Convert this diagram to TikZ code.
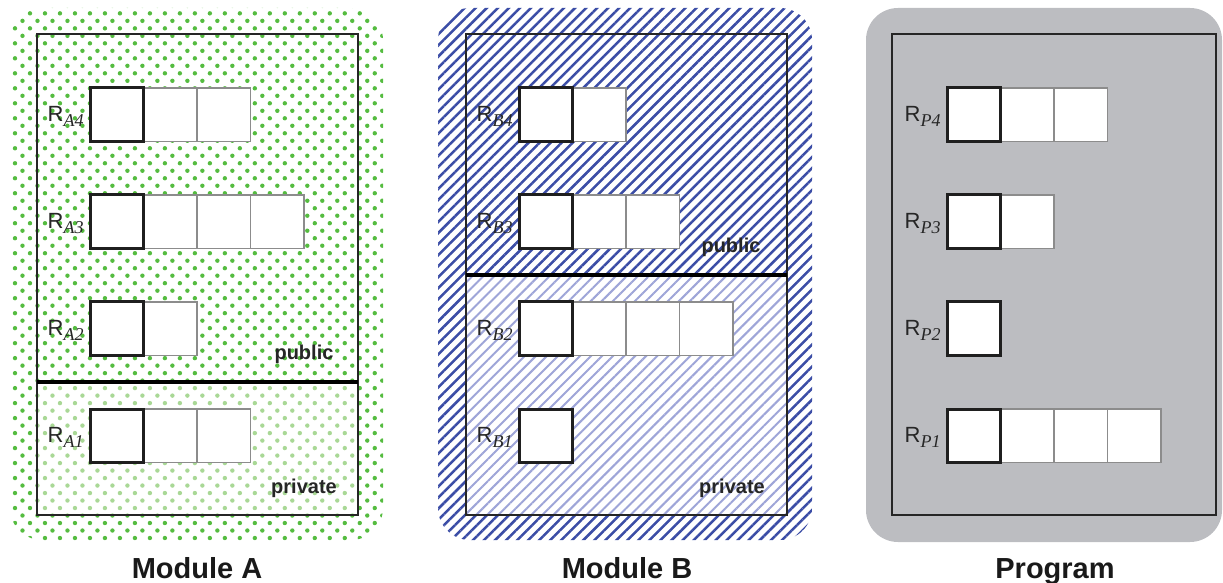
\documentclass[tikz,border=0pt]{standalone}
\usepackage{fontspec}
\setmainfont{Liberation Serif}
\setsansfont{Liberation Sans}
\usetikzlibrary{patterns.meta}
\definecolor{gdot}{HTML}{55BC40}
\definecolor{gdotl}{HTML}{A9D896}
\definecolor{bhat}{HTML}{3B4DA6}
\definecolor{bhatl}{HTML}{9EA5D8}
\definecolor{pgray}{HTML}{BCBDC1}
\definecolor{thincol}{HTML}{8C8C8C}
\newcommand\regrow[6]{%
  \ifnum#4>1
    \foreach \k in {2,...,#4}{\node[cellthin] (#1c\k) at ({#2+(\k-1)*53.5+26.75},{#3+26.75}) {};}
  \fi
  \node[cellbold] (#1c1) at ({#2+26.75},{#3+26.75}) {};
  \node[reglabel] (#1lab) at ([xshift=-3pt,yshift=-3.5pt]#1c1.west) {R\raisebox{-2.2pt}{\fontsize{9}{9}\selectfont\rmfamily\itshape #5#6}};
}
\begin{document}
\begin{tikzpicture}[x=0.5pt,y=-0.5pt,
  cellthin/.style={draw=thincol, line width=0.6pt, fill=white, minimum width=26.75pt, minimum height=26.75pt, inner sep=0pt, outer sep=0pt},
  cellbold/.style={draw=black!88, line width=1.5pt, minimum width=26.75pt, minimum height=26.75pt, inner sep=0pt, outer sep=0pt, fill=white},
  reglabel/.style={font=\fontsize{11}{13}\selectfont\sffamily, inner sep=0pt, anchor=base east, text=black!85},
  tag/.style={font=\fontsize{10}{12}\selectfont\sffamily\bfseries, text=black!85, inner sep=0pt, anchor=base},
  title/.style={font=\fontsize{14.5}{17}\selectfont\sffamily\bfseries, text=black!90, inner sep=0pt, anchor=base},
  frame/.style={draw=black!85, line width=0.65pt},
  sepline/.style={draw=black, line width=2.2pt},
  darkdots/.style={pattern={Dots[distance=5.3pt,angle=45,radius=1.1pt]}, pattern color=gdot},
  lightdots/.style={pattern={Dots[distance=5.3pt,angle=45,radius=1.1pt]}, pattern color=gdotl},
  darkhatch/.style={pattern={Lines[angle=45,distance=3.9pt,line width=1.25pt]}, pattern color=bhat},
  lighthatch/.style={pattern={Lines[angle=45,distance=3.9pt,line width=1.0pt]}, pattern color=bhatl}
]
\useasboundingbox (0,0) rectangle (1223,583);

% ---------- Module A ----------
\fill[white, rounded corners=16pt] (10,8) rectangle (383,540);
\fill[darkdots, rounded corners=16pt] (10,8) rectangle (383,540);
\fill[white] (37,382) rectangle (358,515);
\fill[lightdots] (37,382) rectangle (358,515);
\draw[frame] (37,34) rectangle (358,515);
\draw[sepline] (37,382) -- (358,382);
\regrow{a4}{90}{88}{3}{A}{4}
\regrow{a3}{90}{195}{4}{A}{3}
\regrow{a2}{90}{302}{2}{A}{2}
\regrow{a1}{90}{409}{3}{A}{1}
\node[tag] (apub) at (304,359) {public};
\node[tag] (apriv) at (304,493) {private};
\node[title] (amod) at (197,578) {Module A};

% ---------- Module B ----------
\fill[white, rounded corners=16pt] (438,8) rectangle (812,540);
\fill[darkhatch, rounded corners=16pt] (438,8) rectangle (812,540);
\fill[white] (466,275) rectangle (787,515);
\fill[lighthatch] (466,275) rectangle (787,515);
\draw[frame] (466,34) rectangle (787,515);
\draw[sepline] (466,275) -- (787,275);
\regrow{b4}{519}{88}{2}{B}{4}
\regrow{b3}{519}{195}{3}{B}{3}
\regrow{b2}{519}{302}{4}{B}{2}
\regrow{b1}{519}{409}{1}{B}{1}
\node[tag] (bpub) at (731,253) {public};
\node[tag] (bpriv) at (732,493) {private};
\node[title] (bmod) at (627,578) {Module B};

% ---------- Program ----------
\fill[pgray, rounded corners=16pt] (866,8) rectangle (1222,542);
\draw[frame] (892,34) rectangle (1216,515);
\regrow{p4}{947}{88}{3}{P}{4}
\regrow{p3}{947}{195}{2}{P}{3}
\regrow{p2}{947}{302}{1}{P}{2}
\regrow{p1}{947}{409}{4}{P}{1}
\node[title] (pmod) at (1055,578) {Program};
\end{tikzpicture}
\end{document}
